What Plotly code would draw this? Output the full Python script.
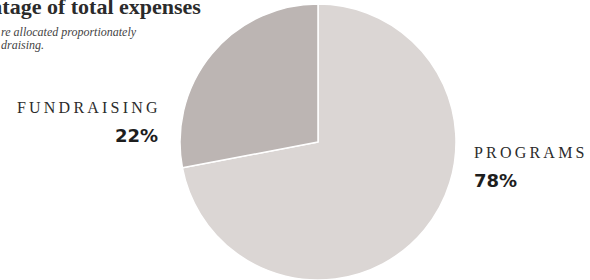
import plotly.graph_objects as go

categories = ["PROGRAMS", "FUNDRAISING"]
slice_values = [72, 28]          # share of circle as drawn in the picture
pct_labels = ["78%", "22%"]      # percentages as printed
colors = ["#dbd6d4", "#bcb5b3"]

title_text = "Percentage of total expenses"
note_lines = ["re allocated proportionately", "draising."]

fig = go.Figure()
fig.add_trace(go.Pie(
    labels=categories, values=slice_values, sort=False,
    direction="clockwise", rotation=0,
    marker=dict(colors=colors, line=dict(color="white", width=1.5)),
    textinfo="none", hoverinfo="label+percent", showlegend=False,
    domain=dict(x=[180/590, 456/590], y=[0, 276/280]),
))

def spaced(s):
    return "\u2009".join(list(s))

serif = "Liberation Serif"
ann = []
ann.append(dict(x=203/590, y=1.0, xref="paper", yref="paper", xanchor="right", yanchor="top",
                text="<b>" + title_text + "</b>", showarrow=False,
                font=dict(family=serif, size=22, color="#2b2b2b"), yshift=8))
ann.append(dict(x=0, y=1 - 23/280, xref="paper", yref="paper", xanchor="left", yanchor="top",
                text="<i>" + note_lines[0] + "</i>", showarrow=False, xshift=-1,
                font=dict(family=serif, size=12, color="#444444")))
ann.append(dict(x=0, y=1 - 36/280, xref="paper", yref="paper", xanchor="left", yanchor="top",
                text="<i>" + note_lines[1] + "</i>", showarrow=False, xshift=-1,
                font=dict(family=serif, size=12, color="#444444")))
# Fundraising label (right-aligned)
ann.append(dict(x=160/590, y=1 - 108/280, xref="paper", yref="paper", xanchor="right", yanchor="middle",
                text=spaced(categories[1]), showarrow=False,
                font=dict(family=serif, size=16, color="#2b2b2b")))
ann.append(dict(x=160/590, y=1 - 135/280, xref="paper", yref="paper", xanchor="right", yanchor="middle",
                text="<b>" + pct_labels[1] + "</b>", showarrow=False,
                font=dict(family="DejaVu Sans", size=18, color="#1e1e1e")))
# Programs label (left-aligned)
ann.append(dict(x=472/590, y=1 - 153/280, xref="paper", yref="paper", xanchor="left", yanchor="middle",
                text=spaced(categories[0]), showarrow=False,
                font=dict(family=serif, size=16, color="#2b2b2b")))
ann.append(dict(x=472/590, y=1 - 180/280, xref="paper", yref="paper", xanchor="left", yanchor="middle",
                text="<b>" + pct_labels[0] + "</b>", showarrow=False,
                font=dict(family="DejaVu Sans", size=18, color="#1e1e1e")))

fig.update_layout(
    width=590, height=280, margin=dict(l=0, r=0, t=0, b=0),
    paper_bgcolor="white", plot_bgcolor="white", annotations=ann,
)
fig.write_html("out.html", config={"displayModeBar": False},
               post_script="document.body.style.margin='0';")
